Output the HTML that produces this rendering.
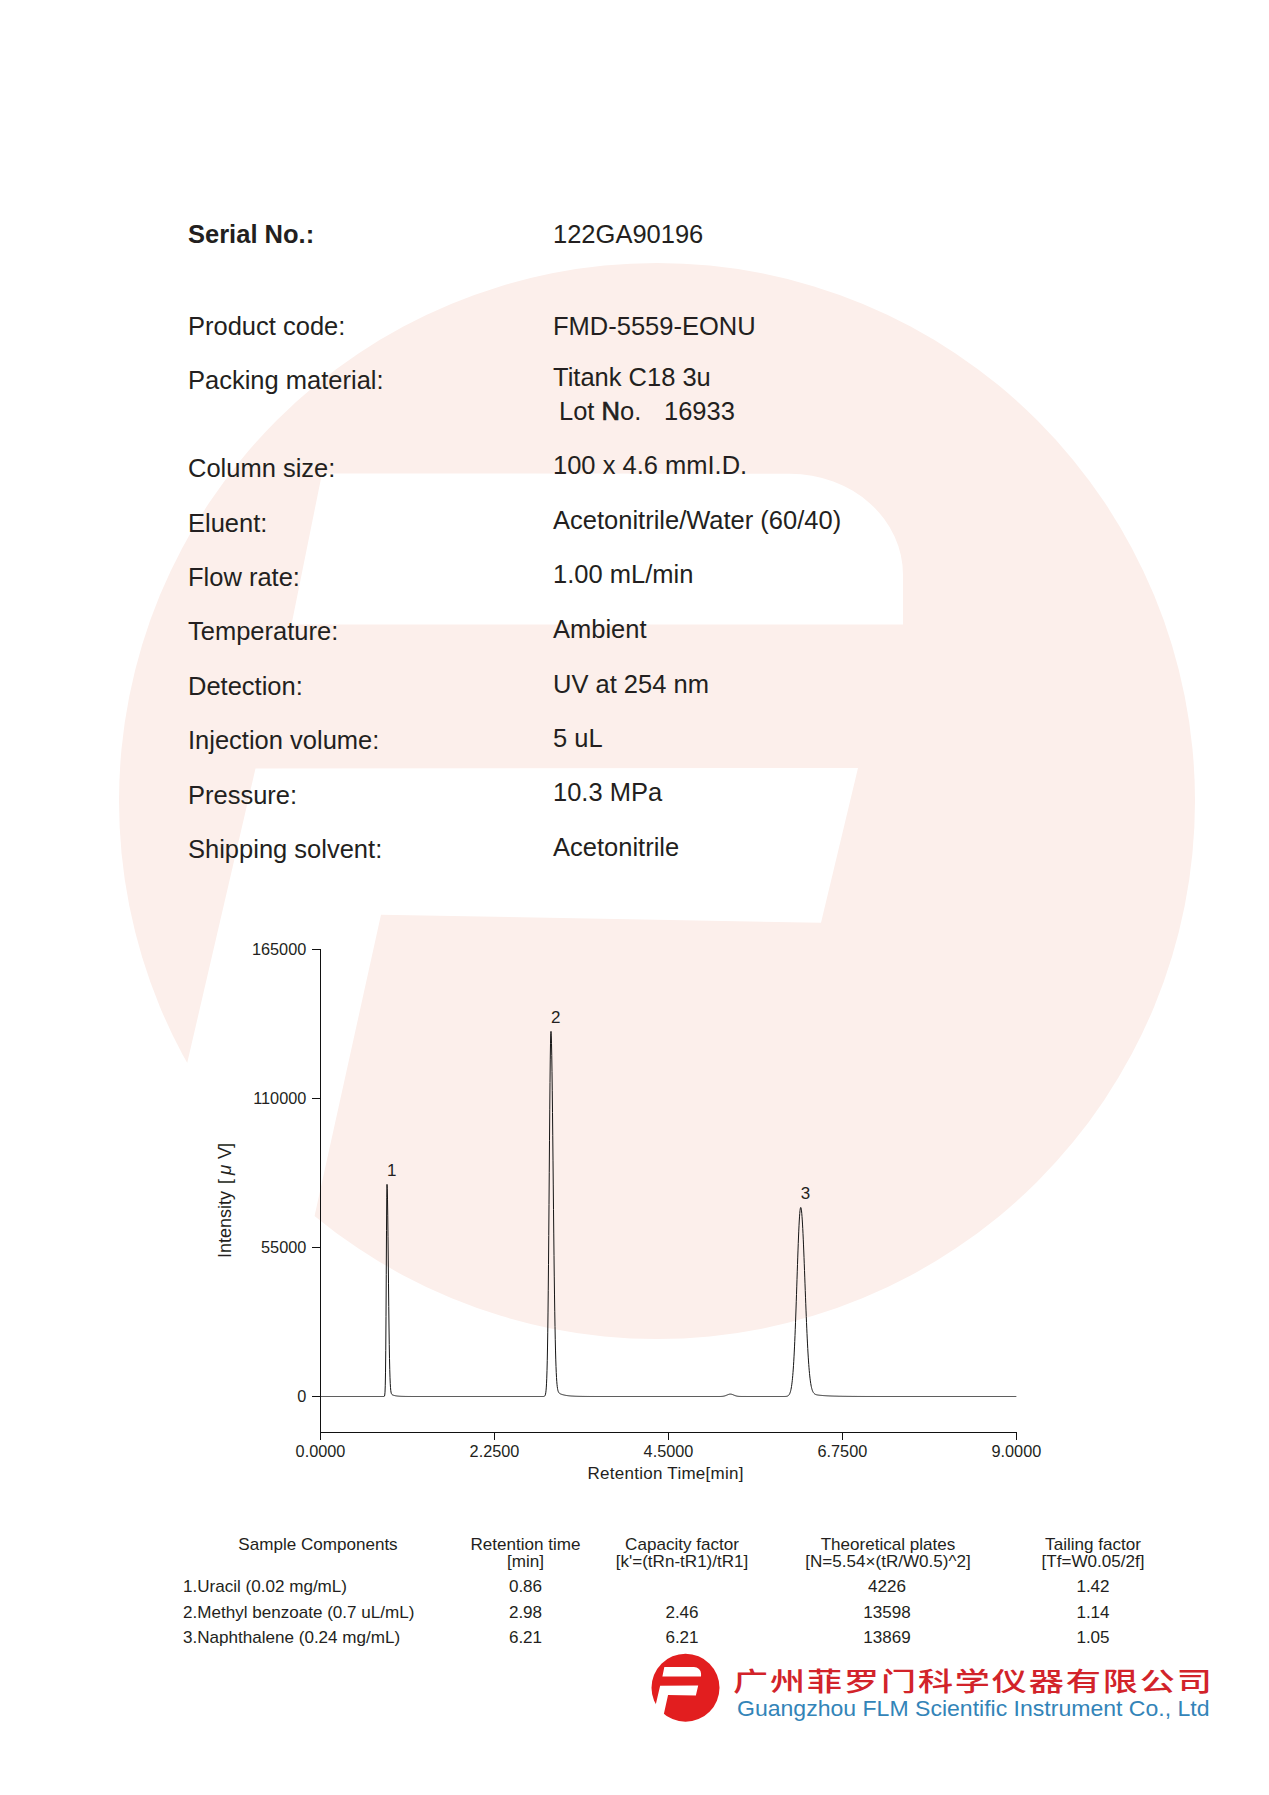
<!DOCTYPE html>
<html><head><meta charset="utf-8"><title>Certificate</title>
<style>
html,body{margin:0;padding:0;background:#fff;}
body{width:1269px;height:1795px;overflow:hidden;position:relative;}
svg{position:absolute;left:0;top:0;display:block;}
text{font-family:'Liberation Sans', Arial, sans-serif;fill:#231f20;}
</style></head><body>
<svg width="1269" height="1795" viewBox="0 0 1269 1795">
<g transform="translate(657 801) scale(1) translate(-657 -801)"><circle cx="657" cy="801" r="538" fill="#fcefeb"/><g fill="#fff"><path d="M322 473.5 L790 473.8 A113 101 0 0 1 903 575 L903 624.6 L291.5 624.4 Z"/><path d="M255.5 768.5 L858 767.9 L821 922.7 L381 914.7 L274 1400 L109 1400 Z"/></g></g>
<text x="188" y="243" font-size="25.5" font-weight="bold">Serial No.:</text>
<text x="553" y="243" font-size="25.5" >122GA90196</text>
<text x="188" y="334.8" font-size="25.5" >Product code:</text>
<text x="188" y="389.4" font-size="25.5" >Packing material:</text>
<text x="188" y="477.3" font-size="25.5" >Column size:</text>
<text x="188" y="531.6" font-size="25.5" >Eluent:</text>
<text x="188" y="586" font-size="25.5" >Flow rate:</text>
<text x="188" y="640.4" font-size="25.5" >Temperature:</text>
<text x="188" y="694.5" font-size="25.5" >Detection:</text>
<text x="188" y="749.2" font-size="25.5" >Injection volume:</text>
<text x="188" y="804" font-size="25.5" >Pressure:</text>
<text x="188" y="858.4" font-size="25.5" >Shipping solvent:</text>
<text x="553" y="334.8" font-size="25.5" >FMD-5559-EONU</text>
<text x="553" y="385.6" font-size="25.5" >Titank C18 3u</text>
<text x="553" y="529.3" font-size="25.5" >Acetonitrile/Water (60/40)</text>
<text x="553" y="583.2" font-size="25.5" >1.00 mL/min</text>
<text x="553" y="637.6" font-size="25.5" >Ambient</text>
<text x="553" y="692.5" font-size="25.5" >UV at 254 nm</text>
<text x="553" y="746.6" font-size="25.5" >5 uL</text>
<text x="553" y="801.2" font-size="25.5" >10.3 MPa</text>
<text x="553" y="855.6" font-size="25.5" >Acetonitrile</text>
<text x="559" y="419.6" font-size="25.5" >Lot <tspan style="stroke:#231f20;stroke-width:0.7">N</tspan>o.</text>
<text x="664" y="419.6" font-size="25.5" >16933</text>
<text x="553" y="473.8" font-size="25.5" >100 x 4.6 mmI.D.</text>
<path d="M320.5 949 V1440 M320 1432.5 H1016.5" stroke="#111" stroke-width="1" fill="none"/>
<path d="M312 949.5 H320 M312 1098.5 H320 M312 1247.5 H320 M312 1396.5 H320 M494.5 1432 V1440 M668.5 1432 V1440 M842.5 1432 V1440 M1016.5 1432 V1440 " stroke="#111" stroke-width="1" fill="none"/>
<text x="306.3" y="954.5" font-size="16.3" text-anchor="end">165000</text>
<text x="306.3" y="1103.5" font-size="16.3" text-anchor="end">110000</text>
<text x="306.3" y="1252.5" font-size="16.3" text-anchor="end">55000</text>
<text x="306.3" y="1401.5" font-size="16.3" text-anchor="end">0</text>
<text x="320.5" y="1457" font-size="16.3" text-anchor="middle">0.0000</text>
<text x="494.5" y="1457" font-size="16.3" text-anchor="middle">2.2500</text>
<text x="668.5" y="1457" font-size="16.3" text-anchor="middle">4.5000</text>
<text x="842.4" y="1457" font-size="16.3" text-anchor="middle">6.7500</text>
<text x="1016.4" y="1457" font-size="16.3" text-anchor="middle">9.0000</text>
<text x="587.5" y="1479.4" font-size="17" textLength="156" lengthAdjust="spacing">Retention Time[min]</text>
<text transform="translate(230.8 1258) rotate(-90)" font-size="18">Intensity <tspan x="74">[</tspan><tspan x="83" font-size="19" font-style="italic">μ</tspan><tspan x="99">V</tspan><tspan x="110">]</tspan></text>
<polyline points="320.50,1396.50 320.75,1396.50 321.00,1396.50 321.25,1396.50 321.50,1396.50 321.75,1396.50 322.00,1396.50 322.25,1396.50 322.50,1396.50 322.75,1396.50 323.00,1396.50 323.25,1396.50 323.50,1396.50 323.75,1396.50 324.00,1396.50 324.25,1396.50 324.50,1396.50 324.75,1396.50 325.00,1396.50 325.25,1396.50 325.50,1396.50 325.75,1396.50 326.00,1396.50 326.25,1396.50 326.50,1396.50 326.75,1396.50 327.00,1396.50 327.25,1396.50 327.50,1396.50 327.75,1396.50 328.00,1396.50 328.25,1396.50 328.50,1396.50 328.75,1396.50 329.00,1396.50 329.25,1396.50 329.50,1396.50 329.75,1396.50 330.00,1396.50 330.25,1396.50 330.50,1396.50 330.75,1396.50 331.00,1396.50 331.25,1396.50 331.50,1396.50 331.75,1396.50 332.00,1396.50 332.25,1396.50 332.50,1396.50 332.75,1396.50 333.00,1396.50 333.25,1396.50 333.50,1396.50 333.75,1396.50 334.00,1396.50 334.25,1396.50 334.50,1396.50 334.75,1396.50 335.00,1396.50 335.25,1396.50 335.50,1396.50 335.75,1396.50 336.00,1396.50 336.25,1396.50 336.50,1396.50 336.75,1396.50 337.00,1396.50 337.25,1396.50 337.50,1396.50 337.75,1396.50 338.00,1396.50 338.25,1396.50 338.50,1396.50 338.75,1396.50 339.00,1396.50 339.25,1396.50 339.50,1396.50 339.75,1396.50 340.00,1396.50 340.25,1396.50 340.50,1396.50 340.75,1396.50 341.00,1396.50 341.25,1396.50 341.50,1396.50 341.75,1396.50 342.00,1396.50 342.25,1396.50 342.50,1396.50 342.75,1396.50 343.00,1396.50 343.25,1396.50 343.50,1396.50 343.75,1396.50 344.00,1396.50 344.25,1396.50 344.50,1396.50 344.75,1396.50 345.00,1396.50 345.25,1396.50 345.50,1396.50 345.75,1396.50 346.00,1396.50 346.25,1396.50 346.50,1396.50 346.75,1396.50 347.00,1396.50 347.25,1396.50 347.50,1396.50 347.75,1396.50 348.00,1396.50 348.25,1396.50 348.50,1396.50 348.75,1396.50 349.00,1396.50 349.25,1396.50 349.50,1396.50 349.75,1396.50 350.00,1396.50 350.25,1396.50 350.50,1396.50 350.75,1396.50 351.00,1396.50 351.25,1396.50 351.50,1396.50 351.75,1396.50 352.00,1396.50 352.25,1396.50 352.50,1396.50 352.75,1396.50 353.00,1396.50 353.25,1396.50 353.50,1396.50 353.75,1396.50 354.00,1396.50 354.25,1396.50 354.50,1396.50 354.75,1396.50 355.00,1396.50 355.25,1396.50 355.50,1396.50 355.75,1396.50 356.00,1396.50 356.25,1396.50 356.50,1396.50 356.75,1396.50 357.00,1396.50 357.25,1396.50 357.50,1396.50 357.75,1396.50 358.00,1396.50 358.25,1396.50 358.50,1396.50 358.75,1396.50 359.00,1396.50 359.25,1396.50 359.50,1396.50 359.75,1396.50 360.00,1396.50 360.25,1396.50 360.50,1396.50 360.75,1396.50 361.00,1396.50 361.25,1396.50 361.50,1396.50 361.75,1396.50 362.00,1396.50 362.25,1396.50 362.50,1396.50 362.75,1396.50 363.00,1396.50 363.25,1396.50 363.50,1396.50 363.75,1396.50 364.00,1396.50 364.25,1396.50 364.50,1396.50 364.75,1396.50 365.00,1396.50 365.25,1396.50 365.50,1396.50 365.75,1396.50 366.00,1396.50 366.25,1396.50 366.50,1396.50 366.75,1396.50 367.00,1396.50 367.25,1396.50 367.50,1396.50 367.75,1396.50 368.00,1396.50 368.25,1396.50 368.50,1396.50 368.75,1396.50 369.00,1396.50 369.25,1396.50 369.50,1396.50 369.75,1396.50 370.00,1396.50 370.25,1396.50 370.50,1396.50 370.75,1396.50 371.00,1396.50 371.25,1396.50 371.50,1396.50 371.75,1396.50 372.00,1396.50 372.25,1396.50 372.50,1396.50 372.75,1396.50 373.00,1396.50 373.25,1396.50 373.50,1396.50 373.75,1396.50 374.00,1396.50 374.25,1396.50 374.50,1396.50 374.75,1396.50 375.00,1396.50 375.25,1396.50 375.50,1396.50 375.75,1396.50 376.00,1396.50 376.25,1396.50 376.50,1396.50 376.75,1396.50 377.00,1396.50 377.25,1396.50 377.50,1396.50 377.75,1396.50 378.00,1396.50 378.25,1396.50 378.50,1396.50 378.75,1396.50 379.00,1396.50 379.25,1396.50 379.50,1396.50 379.75,1396.50 380.00,1396.50 380.25,1396.50 380.50,1396.50 380.75,1396.50 381.00,1396.50 381.25,1396.50 381.50,1396.50 381.75,1396.50 382.00,1396.50 382.25,1396.50 382.50,1396.50 382.75,1396.50 383.00,1396.50 383.25,1396.50 383.50,1396.50 383.75,1396.49 384.00,1396.47 384.25,1396.37 384.50,1396.02 384.75,1394.97 385.00,1392.19 385.25,1385.78 385.50,1372.88 385.75,1350.37 386.00,1316.73 386.25,1274.30 386.50,1230.69 386.75,1197.23 387.00,1184.38 387.25,1188.31 387.50,1199.15 387.75,1215.83 388.00,1236.74 388.25,1260.03 388.50,1283.83 388.75,1306.56 389.00,1327.01 389.25,1344.45 389.50,1358.63 389.75,1369.64 390.00,1377.82 390.25,1383.66 390.50,1387.68 390.75,1390.35 391.00,1392.07 391.25,1393.15 391.50,1393.83 391.75,1394.26 392.00,1394.54 392.25,1394.73 392.50,1394.87 392.75,1394.99 393.00,1395.09 393.25,1395.18 393.50,1395.26 393.75,1395.34 394.00,1395.41 394.25,1395.48 394.50,1395.54 394.75,1395.60 395.00,1395.65 395.25,1395.71 395.50,1395.75 395.75,1395.80 396.00,1395.84 396.25,1395.88 396.50,1395.92 396.75,1395.96 397.00,1395.99 397.25,1396.02 397.50,1396.05 397.75,1396.08 398.00,1396.10 398.25,1396.13 398.50,1396.15 398.75,1396.17 399.00,1396.19 399.25,1396.21 399.50,1396.23 399.75,1396.25 400.00,1396.26 400.25,1396.28 400.50,1396.29 400.75,1396.30 401.00,1396.31 401.25,1396.33 401.50,1396.34 401.75,1396.35 402.00,1396.36 402.25,1396.36 402.50,1396.37 402.75,1396.38 403.00,1396.39 403.25,1396.39 403.50,1396.40 403.75,1396.41 404.00,1396.41 404.25,1396.42 404.50,1396.42 404.75,1396.43 405.00,1396.43 405.25,1396.44 405.50,1396.44 405.75,1396.44 406.00,1396.45 406.25,1396.45 406.50,1396.45 406.75,1396.46 407.00,1396.46 407.25,1396.46 407.50,1396.46 407.75,1396.47 408.00,1396.47 408.25,1396.47 408.50,1396.47 408.75,1396.47 409.00,1396.48 409.25,1396.48 409.50,1396.48 409.75,1396.48 410.00,1396.48 410.25,1396.48 410.50,1396.48 410.75,1396.48 411.00,1396.49 411.25,1396.49 411.50,1396.49 411.75,1396.49 412.00,1396.49 412.25,1396.49 412.50,1396.49 412.75,1396.49 413.00,1396.49 413.25,1396.49 413.50,1396.49 413.75,1396.49 414.00,1396.49 414.25,1396.49 414.50,1396.49 414.75,1396.49 415.00,1396.49 415.25,1396.49 415.50,1396.50 415.75,1396.50 416.00,1396.50 416.25,1396.50 416.50,1396.50 416.75,1396.50 417.00,1396.50 417.25,1396.50 417.50,1396.50 417.75,1396.50 418.00,1396.50 418.25,1396.50 418.50,1396.50 418.75,1396.50 419.00,1396.50 419.25,1396.50 419.50,1396.50 419.75,1396.50 420.00,1396.50 420.25,1396.50 420.50,1396.50 420.75,1396.50 421.00,1396.50 421.25,1396.50 421.50,1396.50 421.75,1396.50 422.00,1396.50 422.25,1396.50 422.50,1396.50 422.75,1396.50 423.00,1396.50 423.25,1396.50 423.50,1396.50 423.75,1396.50 424.00,1396.50 424.25,1396.50 424.50,1396.50 424.75,1396.50 425.00,1396.50 425.25,1396.50 425.50,1396.50 425.75,1396.50 426.00,1396.50 426.25,1396.50 426.50,1396.50 426.75,1396.50 427.00,1396.50 427.25,1396.50 427.50,1396.50 427.75,1396.50 428.00,1396.50 428.25,1396.50 428.50,1396.50 428.75,1396.50 429.00,1396.50 429.25,1396.50 429.50,1396.50 429.75,1396.50 430.00,1396.50 430.25,1396.50 430.50,1396.50 430.75,1396.50 431.00,1396.50 431.25,1396.50 431.50,1396.50 431.75,1396.50 432.00,1396.50 432.25,1396.50 432.50,1396.50 432.75,1396.50 433.00,1396.50 433.25,1396.50 433.50,1396.50 433.75,1396.50 434.00,1396.50 434.25,1396.50 434.50,1396.50 434.75,1396.50 435.00,1396.50 435.25,1396.50 435.50,1396.50 435.75,1396.50 436.00,1396.50 436.25,1396.50 436.50,1396.50 436.75,1396.50 437.00,1396.50 437.25,1396.50 437.50,1396.50 437.75,1396.50 438.00,1396.50 438.25,1396.50 438.50,1396.50 438.75,1396.50 439.00,1396.50 439.25,1396.50 439.50,1396.50 439.75,1396.50 440.00,1396.50 440.25,1396.50 440.50,1396.50 440.75,1396.50 441.00,1396.50 441.25,1396.50 441.50,1396.50 441.75,1396.50 442.00,1396.50 442.25,1396.50 442.50,1396.50 442.75,1396.50 443.00,1396.50 443.25,1396.50 443.50,1396.50 443.75,1396.50 444.00,1396.50 444.25,1396.50 444.50,1396.50 444.75,1396.50 445.00,1396.50 445.25,1396.50 445.50,1396.50 445.75,1396.50 446.00,1396.50 446.25,1396.50 446.50,1396.50 446.75,1396.50 447.00,1396.50 447.25,1396.50 447.50,1396.50 447.75,1396.50 448.00,1396.50 448.25,1396.50 448.50,1396.50 448.75,1396.50 449.00,1396.50 449.25,1396.50 449.50,1396.50 449.75,1396.50 450.00,1396.50 450.25,1396.50 450.50,1396.50 450.75,1396.50 451.00,1396.50 451.25,1396.50 451.50,1396.50 451.75,1396.50 452.00,1396.50 452.25,1396.50 452.50,1396.50 452.75,1396.50 453.00,1396.50 453.25,1396.50 453.50,1396.50 453.75,1396.50 454.00,1396.50 454.25,1396.50 454.50,1396.50 454.75,1396.50 455.00,1396.50 455.25,1396.50 455.50,1396.50 455.75,1396.50 456.00,1396.50 456.25,1396.50 456.50,1396.50 456.75,1396.50 457.00,1396.50 457.25,1396.50 457.50,1396.50 457.75,1396.50 458.00,1396.50 458.25,1396.50 458.50,1396.50 458.75,1396.50 459.00,1396.50 459.25,1396.50 459.50,1396.50 459.75,1396.50 460.00,1396.50 460.25,1396.50 460.50,1396.50 460.75,1396.50 461.00,1396.50 461.25,1396.50 461.50,1396.50 461.75,1396.50 462.00,1396.50 462.25,1396.50 462.50,1396.50 462.75,1396.50 463.00,1396.50 463.25,1396.50 463.50,1396.50 463.75,1396.50 464.00,1396.50 464.25,1396.50 464.50,1396.50 464.75,1396.50 465.00,1396.50 465.25,1396.50 465.50,1396.50 465.75,1396.50 466.00,1396.50 466.25,1396.50 466.50,1396.50 466.75,1396.50 467.00,1396.50 467.25,1396.50 467.50,1396.50 467.75,1396.50 468.00,1396.50 468.25,1396.50 468.50,1396.50 468.75,1396.50 469.00,1396.50 469.25,1396.50 469.50,1396.50 469.75,1396.50 470.00,1396.50 470.25,1396.50 470.50,1396.50 470.75,1396.50 471.00,1396.50 471.25,1396.50 471.50,1396.50 471.75,1396.50 472.00,1396.50 472.25,1396.50 472.50,1396.50 472.75,1396.50 473.00,1396.50 473.25,1396.50 473.50,1396.50 473.75,1396.50 474.00,1396.50 474.25,1396.50 474.50,1396.50 474.75,1396.50 475.00,1396.50 475.25,1396.50 475.50,1396.50 475.75,1396.50 476.00,1396.50 476.25,1396.50 476.50,1396.50 476.75,1396.50 477.00,1396.50 477.25,1396.50 477.50,1396.50 477.75,1396.50 478.00,1396.50 478.25,1396.50 478.50,1396.50 478.75,1396.50 479.00,1396.50 479.25,1396.50 479.50,1396.50 479.75,1396.50 480.00,1396.50 480.25,1396.50 480.50,1396.50 480.75,1396.50 481.00,1396.50 481.25,1396.50 481.50,1396.50 481.75,1396.50 482.00,1396.50 482.25,1396.50 482.50,1396.50 482.75,1396.50 483.00,1396.50 483.25,1396.50 483.50,1396.50 483.75,1396.50 484.00,1396.50 484.25,1396.50 484.50,1396.50 484.75,1396.50 485.00,1396.50 485.25,1396.50 485.50,1396.50 485.75,1396.50 486.00,1396.50 486.25,1396.50 486.50,1396.50 486.75,1396.50 487.00,1396.50 487.25,1396.50 487.50,1396.50 487.75,1396.50 488.00,1396.50 488.25,1396.50 488.50,1396.50 488.75,1396.50 489.00,1396.50 489.25,1396.50 489.50,1396.50 489.75,1396.50 490.00,1396.50 490.25,1396.50 490.50,1396.50 490.75,1396.50 491.00,1396.50 491.25,1396.50 491.50,1396.50 491.75,1396.50 492.00,1396.50 492.25,1396.50 492.50,1396.50 492.75,1396.50 493.00,1396.50 493.25,1396.50 493.50,1396.50 493.75,1396.50 494.00,1396.50 494.25,1396.50 494.50,1396.50 494.75,1396.50 495.00,1396.50 495.25,1396.50 495.50,1396.50 495.75,1396.50 496.00,1396.50 496.25,1396.50 496.50,1396.50 496.75,1396.50 497.00,1396.50 497.25,1396.50 497.50,1396.50 497.75,1396.50 498.00,1396.50 498.25,1396.50 498.50,1396.50 498.75,1396.50 499.00,1396.50 499.25,1396.50 499.50,1396.50 499.75,1396.50 500.00,1396.50 500.25,1396.50 500.50,1396.50 500.75,1396.50 501.00,1396.50 501.25,1396.50 501.50,1396.50 501.75,1396.50 502.00,1396.50 502.25,1396.50 502.50,1396.50 502.75,1396.50 503.00,1396.50 503.25,1396.50 503.50,1396.50 503.75,1396.50 504.00,1396.50 504.25,1396.50 504.50,1396.50 504.75,1396.50 505.00,1396.50 505.25,1396.50 505.50,1396.50 505.75,1396.50 506.00,1396.50 506.25,1396.50 506.50,1396.50 506.75,1396.50 507.00,1396.50 507.25,1396.50 507.50,1396.50 507.75,1396.50 508.00,1396.50 508.25,1396.50 508.50,1396.50 508.75,1396.50 509.00,1396.50 509.25,1396.50 509.50,1396.50 509.75,1396.50 510.00,1396.50 510.25,1396.50 510.50,1396.50 510.75,1396.50 511.00,1396.50 511.25,1396.50 511.50,1396.50 511.75,1396.50 512.00,1396.50 512.25,1396.50 512.50,1396.50 512.75,1396.50 513.00,1396.50 513.25,1396.50 513.50,1396.50 513.75,1396.50 514.00,1396.50 514.25,1396.50 514.50,1396.50 514.75,1396.50 515.00,1396.50 515.25,1396.50 515.50,1396.50 515.75,1396.50 516.00,1396.50 516.25,1396.50 516.50,1396.50 516.75,1396.50 517.00,1396.50 517.25,1396.50 517.50,1396.50 517.75,1396.50 518.00,1396.50 518.25,1396.50 518.50,1396.50 518.75,1396.50 519.00,1396.50 519.25,1396.50 519.50,1396.50 519.75,1396.50 520.00,1396.50 520.25,1396.50 520.50,1396.50 520.75,1396.50 521.00,1396.50 521.25,1396.50 521.50,1396.50 521.75,1396.50 522.00,1396.50 522.25,1396.50 522.50,1396.50 522.75,1396.50 523.00,1396.50 523.25,1396.50 523.50,1396.50 523.75,1396.50 524.00,1396.50 524.25,1396.50 524.50,1396.50 524.75,1396.50 525.00,1396.50 525.25,1396.50 525.50,1396.50 525.75,1396.50 526.00,1396.50 526.25,1396.50 526.50,1396.50 526.75,1396.50 527.00,1396.50 527.25,1396.50 527.50,1396.50 527.75,1396.50 528.00,1396.50 528.25,1396.50 528.50,1396.50 528.75,1396.50 529.00,1396.50 529.25,1396.50 529.50,1396.50 529.75,1396.50 530.00,1396.50 530.25,1396.50 530.50,1396.50 530.75,1396.50 531.00,1396.50 531.25,1396.50 531.50,1396.50 531.75,1396.50 532.00,1396.50 532.25,1396.50 532.50,1396.50 532.75,1396.50 533.00,1396.50 533.25,1396.50 533.50,1396.50 533.75,1396.50 534.00,1396.50 534.25,1396.50 534.50,1396.50 534.75,1396.50 535.00,1396.50 535.25,1396.50 535.50,1396.50 535.75,1396.50 536.00,1396.50 536.25,1396.50 536.50,1396.50 536.75,1396.50 537.00,1396.50 537.25,1396.50 537.50,1396.50 537.75,1396.50 538.00,1396.50 538.25,1396.50 538.50,1396.50 538.75,1396.50 539.00,1396.50 539.25,1396.50 539.50,1396.50 539.75,1396.50 540.00,1396.50 540.25,1396.50 540.50,1396.50 540.75,1396.50 541.00,1396.50 541.25,1396.50 541.50,1396.50 541.75,1396.50 542.00,1396.50 542.25,1396.50 542.50,1396.50 542.75,1396.50 543.00,1396.49 543.25,1396.48 543.50,1396.47 543.75,1396.45 544.00,1396.40 544.25,1396.32 544.50,1396.19 544.75,1395.97 545.00,1395.61 545.25,1395.04 545.50,1394.15 545.75,1392.80 546.00,1390.81 546.25,1387.92 546.50,1383.84 546.75,1378.21 547.00,1370.64 547.25,1360.70 547.50,1347.99 547.75,1332.15 548.00,1312.94 548.25,1290.28 548.50,1264.32 548.75,1235.48 549.00,1204.47 549.25,1172.32 549.50,1140.29 549.75,1109.85 550.00,1082.55 550.25,1059.90 550.50,1043.21 550.75,1033.50 551.00,1031.39 551.25,1035.12 551.50,1043.30 551.75,1055.61 552.00,1071.63 552.25,1090.77 552.50,1112.38 552.75,1135.75 553.00,1160.17 553.25,1184.94 553.50,1209.42 553.75,1233.07 554.00,1255.42 554.25,1276.12 554.50,1294.95 554.75,1311.76 555.00,1326.51 555.25,1339.25 555.50,1350.06 555.75,1359.11 556.00,1366.57 556.25,1372.62 556.50,1377.47 556.75,1381.31 557.00,1384.31 557.25,1386.62 557.50,1388.39 557.75,1389.73 558.00,1390.75 558.25,1391.51 558.50,1392.09 558.75,1392.52 559.00,1392.86 559.25,1393.13 559.50,1393.34 559.75,1393.51 560.00,1393.66 560.25,1393.79 560.50,1393.91 560.75,1394.01 561.00,1394.11 561.25,1394.21 561.50,1394.29 561.75,1394.38 562.00,1394.46 562.25,1394.53 562.50,1394.61 562.75,1394.68 563.00,1394.75 563.25,1394.81 563.50,1394.87 563.75,1394.93 564.00,1394.99 564.25,1395.05 564.50,1395.10 564.75,1395.16 565.00,1395.21 565.25,1395.25 565.50,1395.30 565.75,1395.35 566.00,1395.39 566.25,1395.43 566.50,1395.47 566.75,1395.51 567.00,1395.54 567.25,1395.58 567.50,1395.61 567.75,1395.65 568.00,1395.68 568.25,1395.71 568.50,1395.74 568.75,1395.77 569.00,1395.80 569.25,1395.82 569.50,1395.85 569.75,1395.87 570.00,1395.89 570.25,1395.92 570.50,1395.94 570.75,1395.96 571.00,1395.98 571.25,1396.00 571.50,1396.02 571.75,1396.04 572.00,1396.05 572.25,1396.07 572.50,1396.09 572.75,1396.10 573.00,1396.12 573.25,1396.13 573.50,1396.14 573.75,1396.16 574.00,1396.17 574.25,1396.18 574.50,1396.19 574.75,1396.21 575.00,1396.22 575.25,1396.23 575.50,1396.24 575.75,1396.25 576.00,1396.26 576.25,1396.27 576.50,1396.27 576.75,1396.28 577.00,1396.29 577.25,1396.30 577.50,1396.31 577.75,1396.31 578.00,1396.32 578.25,1396.33 578.50,1396.33 578.75,1396.34 579.00,1396.35 579.25,1396.35 579.50,1396.36 579.75,1396.36 580.00,1396.37 580.25,1396.37 580.50,1396.38 580.75,1396.38 581.00,1396.39 581.25,1396.39 581.50,1396.39 581.75,1396.40 582.00,1396.40 582.25,1396.41 582.50,1396.41 582.75,1396.41 583.00,1396.42 583.25,1396.42 583.50,1396.42 583.75,1396.43 584.00,1396.43 584.25,1396.43 584.50,1396.43 584.75,1396.44 585.00,1396.44 585.25,1396.44 585.50,1396.44 585.75,1396.44 586.00,1396.45 586.25,1396.45 586.50,1396.45 586.75,1396.45 587.00,1396.45 587.25,1396.46 587.50,1396.46 587.75,1396.46 588.00,1396.46 588.25,1396.46 588.50,1396.46 588.75,1396.46 589.00,1396.47 589.25,1396.47 589.50,1396.47 589.75,1396.47 590.00,1396.47 590.25,1396.47 590.50,1396.47 590.75,1396.47 591.00,1396.48 591.25,1396.48 591.50,1396.48 591.75,1396.48 592.00,1396.48 592.25,1396.48 592.50,1396.48 592.75,1396.48 593.00,1396.48 593.25,1396.48 593.50,1396.48 593.75,1396.48 594.00,1396.48 594.25,1396.48 594.50,1396.49 594.75,1396.49 595.00,1396.49 595.25,1396.49 595.50,1396.49 595.75,1396.49 596.00,1396.49 596.25,1396.49 596.50,1396.49 596.75,1396.49 597.00,1396.49 597.25,1396.49 597.50,1396.49 597.75,1396.49 598.00,1396.49 598.25,1396.49 598.50,1396.49 598.75,1396.49 599.00,1396.49 599.25,1396.49 599.50,1396.49 599.75,1396.49 600.00,1396.49 600.25,1396.49 600.50,1396.49 600.75,1396.49 601.00,1396.49 601.25,1396.49 601.50,1396.49 601.75,1396.50 602.00,1396.50 602.25,1396.50 602.50,1396.50 602.75,1396.50 603.00,1396.50 603.25,1396.50 603.50,1396.50 603.75,1396.50 604.00,1396.50 604.25,1396.50 604.50,1396.50 604.75,1396.50 605.00,1396.50 605.25,1396.50 605.50,1396.50 605.75,1396.50 606.00,1396.50 606.25,1396.50 606.50,1396.50 606.75,1396.50 607.00,1396.50 607.25,1396.50 607.50,1396.50 607.75,1396.50 608.00,1396.50 608.25,1396.50 608.50,1396.50 608.75,1396.50 609.00,1396.50 609.25,1396.50 609.50,1396.50 609.75,1396.50 610.00,1396.50 610.25,1396.50 610.50,1396.50 610.75,1396.50 611.00,1396.50 611.25,1396.50 611.50,1396.50 611.75,1396.50 612.00,1396.50 612.25,1396.50 612.50,1396.50 612.75,1396.50 613.00,1396.50 613.25,1396.50 613.50,1396.50 613.75,1396.50 614.00,1396.50 614.25,1396.50 614.50,1396.50 614.75,1396.50 615.00,1396.50 615.25,1396.50 615.50,1396.50 615.75,1396.50 616.00,1396.50 616.25,1396.50 616.50,1396.50 616.75,1396.50 617.00,1396.50 617.25,1396.50 617.50,1396.50 617.75,1396.50 618.00,1396.50 618.25,1396.50 618.50,1396.50 618.75,1396.50 619.00,1396.50 619.25,1396.50 619.50,1396.50 619.75,1396.50 620.00,1396.50 620.25,1396.50 620.50,1396.50 620.75,1396.50 621.00,1396.50 621.25,1396.50 621.50,1396.50 621.75,1396.50 622.00,1396.50 622.25,1396.50 622.50,1396.50 622.75,1396.50 623.00,1396.50 623.25,1396.50 623.50,1396.50 623.75,1396.50 624.00,1396.50 624.25,1396.50 624.50,1396.50 624.75,1396.50 625.00,1396.50 625.25,1396.50 625.50,1396.50 625.75,1396.50 626.00,1396.50 626.25,1396.50 626.50,1396.50 626.75,1396.50 627.00,1396.50 627.25,1396.50 627.50,1396.50 627.75,1396.50 628.00,1396.50 628.25,1396.50 628.50,1396.50 628.75,1396.50 629.00,1396.50 629.25,1396.50 629.50,1396.50 629.75,1396.50 630.00,1396.50 630.25,1396.50 630.50,1396.50 630.75,1396.50 631.00,1396.50 631.25,1396.50 631.50,1396.50 631.75,1396.50 632.00,1396.50 632.25,1396.50 632.50,1396.50 632.75,1396.50 633.00,1396.50 633.25,1396.50 633.50,1396.50 633.75,1396.50 634.00,1396.50 634.25,1396.50 634.50,1396.50 634.75,1396.50 635.00,1396.50 635.25,1396.50 635.50,1396.50 635.75,1396.50 636.00,1396.50 636.25,1396.50 636.50,1396.50 636.75,1396.50 637.00,1396.50 637.25,1396.50 637.50,1396.50 637.75,1396.50 638.00,1396.50 638.25,1396.50 638.50,1396.50 638.75,1396.50 639.00,1396.50 639.25,1396.50 639.50,1396.50 639.75,1396.50 640.00,1396.50 640.25,1396.50 640.50,1396.50 640.75,1396.50 641.00,1396.50 641.25,1396.50 641.50,1396.50 641.75,1396.50 642.00,1396.50 642.25,1396.50 642.50,1396.50 642.75,1396.50 643.00,1396.50 643.25,1396.50 643.50,1396.50 643.75,1396.50 644.00,1396.50 644.25,1396.50 644.50,1396.50 644.75,1396.50 645.00,1396.50 645.25,1396.50 645.50,1396.50 645.75,1396.50 646.00,1396.50 646.25,1396.50 646.50,1396.50 646.75,1396.50 647.00,1396.50 647.25,1396.50 647.50,1396.50 647.75,1396.50 648.00,1396.50 648.25,1396.50 648.50,1396.50 648.75,1396.50 649.00,1396.50 649.25,1396.50 649.50,1396.50 649.75,1396.50 650.00,1396.50 650.25,1396.50 650.50,1396.50 650.75,1396.50 651.00,1396.50 651.25,1396.50 651.50,1396.50 651.75,1396.50 652.00,1396.50 652.25,1396.50 652.50,1396.50 652.75,1396.50 653.00,1396.50 653.25,1396.50 653.50,1396.50 653.75,1396.50 654.00,1396.50 654.25,1396.50 654.50,1396.50 654.75,1396.50 655.00,1396.50 655.25,1396.50 655.50,1396.50 655.75,1396.50 656.00,1396.50 656.25,1396.50 656.50,1396.50 656.75,1396.50 657.00,1396.50 657.25,1396.50 657.50,1396.50 657.75,1396.50 658.00,1396.50 658.25,1396.50 658.50,1396.50 658.75,1396.50 659.00,1396.50 659.25,1396.50 659.50,1396.50 659.75,1396.50 660.00,1396.50 660.25,1396.50 660.50,1396.50 660.75,1396.50 661.00,1396.50 661.25,1396.50 661.50,1396.50 661.75,1396.50 662.00,1396.50 662.25,1396.50 662.50,1396.50 662.75,1396.50 663.00,1396.50 663.25,1396.50 663.50,1396.50 663.75,1396.50 664.00,1396.50 664.25,1396.50 664.50,1396.50 664.75,1396.50 665.00,1396.50 665.25,1396.50 665.50,1396.50 665.75,1396.50 666.00,1396.50 666.25,1396.50 666.50,1396.50 666.75,1396.50 667.00,1396.50 667.25,1396.50 667.50,1396.50 667.75,1396.50 668.00,1396.50 668.25,1396.50 668.50,1396.50 668.75,1396.50 669.00,1396.50 669.25,1396.50 669.50,1396.50 669.75,1396.50 670.00,1396.50 670.25,1396.50 670.50,1396.50 670.75,1396.50 671.00,1396.50 671.25,1396.50 671.50,1396.50 671.75,1396.50 672.00,1396.50 672.25,1396.50 672.50,1396.50 672.75,1396.50 673.00,1396.50 673.25,1396.50 673.50,1396.50 673.75,1396.50 674.00,1396.50 674.25,1396.50 674.50,1396.50 674.75,1396.50 675.00,1396.50 675.25,1396.50 675.50,1396.50 675.75,1396.50 676.00,1396.50 676.25,1396.50 676.50,1396.50 676.75,1396.50 677.00,1396.50 677.25,1396.50 677.50,1396.50 677.75,1396.50 678.00,1396.50 678.25,1396.50 678.50,1396.50 678.75,1396.50 679.00,1396.50 679.25,1396.50 679.50,1396.50 679.75,1396.50 680.00,1396.50 680.25,1396.50 680.50,1396.50 680.75,1396.50 681.00,1396.50 681.25,1396.50 681.50,1396.50 681.75,1396.50 682.00,1396.50 682.25,1396.50 682.50,1396.50 682.75,1396.50 683.00,1396.50 683.25,1396.50 683.50,1396.50 683.75,1396.50 684.00,1396.50 684.25,1396.50 684.50,1396.50 684.75,1396.50 685.00,1396.50 685.25,1396.50 685.50,1396.50 685.75,1396.50 686.00,1396.50 686.25,1396.50 686.50,1396.50 686.75,1396.50 687.00,1396.50 687.25,1396.50 687.50,1396.50 687.75,1396.50 688.00,1396.50 688.25,1396.50 688.50,1396.50 688.75,1396.50 689.00,1396.50 689.25,1396.50 689.50,1396.50 689.75,1396.50 690.00,1396.50 690.25,1396.50 690.50,1396.50 690.75,1396.50 691.00,1396.50 691.25,1396.50 691.50,1396.50 691.75,1396.50 692.00,1396.50 692.25,1396.50 692.50,1396.50 692.75,1396.50 693.00,1396.50 693.25,1396.50 693.50,1396.50 693.75,1396.50 694.00,1396.50 694.25,1396.50 694.50,1396.50 694.75,1396.50 695.00,1396.50 695.25,1396.50 695.50,1396.50 695.75,1396.50 696.00,1396.50 696.25,1396.50 696.50,1396.50 696.75,1396.50 697.00,1396.50 697.25,1396.50 697.50,1396.50 697.75,1396.50 698.00,1396.50 698.25,1396.50 698.50,1396.50 698.75,1396.50 699.00,1396.50 699.25,1396.50 699.50,1396.50 699.75,1396.50 700.00,1396.50 700.25,1396.50 700.50,1396.50 700.75,1396.50 701.00,1396.50 701.25,1396.50 701.50,1396.50 701.75,1396.50 702.00,1396.50 702.25,1396.50 702.50,1396.50 702.75,1396.50 703.00,1396.50 703.25,1396.50 703.50,1396.50 703.75,1396.50 704.00,1396.50 704.25,1396.50 704.50,1396.50 704.75,1396.50 705.00,1396.50 705.25,1396.50 705.50,1396.50 705.75,1396.50 706.00,1396.50 706.25,1396.50 706.50,1396.50 706.75,1396.50 707.00,1396.50 707.25,1396.50 707.50,1396.50 707.75,1396.50 708.00,1396.50 708.25,1396.50 708.50,1396.50 708.75,1396.50 709.00,1396.50 709.25,1396.50 709.50,1396.50 709.75,1396.50 710.00,1396.50 710.25,1396.50 710.50,1396.50 710.75,1396.50 711.00,1396.50 711.25,1396.50 711.50,1396.50 711.75,1396.50 712.00,1396.50 712.25,1396.50 712.50,1396.50 712.75,1396.50 713.00,1396.50 713.25,1396.50 713.50,1396.50 713.75,1396.50 714.00,1396.50 714.25,1396.50 714.50,1396.50 714.75,1396.50 715.00,1396.50 715.25,1396.50 715.50,1396.50 715.75,1396.50 716.00,1396.50 716.25,1396.50 716.50,1396.50 716.75,1396.50 717.00,1396.50 717.25,1396.50 717.50,1396.50 717.75,1396.50 718.00,1396.50 718.25,1396.50 718.50,1396.49 718.75,1396.49 719.00,1396.49 719.25,1396.49 719.50,1396.49 719.75,1396.48 720.00,1396.48 720.25,1396.47 720.50,1396.46 720.75,1396.46 721.00,1396.45 721.25,1396.43 721.50,1396.42 721.75,1396.40 722.00,1396.38 722.25,1396.36 722.50,1396.33 722.75,1396.30 723.00,1396.27 723.25,1396.23 723.50,1396.19 723.75,1396.14 724.00,1396.08 724.25,1396.02 724.50,1395.96 724.75,1395.89 725.00,1395.81 725.25,1395.73 725.50,1395.64 725.75,1395.55 726.00,1395.45 726.25,1395.35 726.50,1395.25 726.75,1395.14 727.00,1395.03 727.25,1394.93 727.50,1394.82 727.75,1394.72 728.00,1394.62 728.25,1394.53 728.50,1394.44 728.75,1394.37 729.00,1394.30 729.25,1394.24 729.50,1394.19 729.75,1394.15 730.00,1394.13 730.25,1394.12 730.50,1394.12 730.75,1394.13 731.00,1394.16 731.25,1394.20 731.50,1394.25 731.75,1394.31 732.00,1394.38 732.25,1394.46 732.50,1394.55 732.75,1394.64 733.00,1394.74 733.25,1394.84 733.50,1394.94 733.75,1395.05 734.00,1395.15 734.25,1395.26 734.50,1395.36 734.75,1395.45 735.00,1395.55 735.25,1395.64 735.50,1395.72 735.75,1395.80 736.00,1395.88 736.25,1395.95 736.50,1396.01 736.75,1396.07 737.00,1396.12 737.25,1396.17 737.50,1396.21 737.75,1396.25 738.00,1396.28 738.25,1396.31 738.50,1396.34 738.75,1396.36 739.00,1396.38 739.25,1396.40 739.50,1396.41 739.75,1396.42 740.00,1396.43 740.25,1396.44 740.50,1396.45 740.75,1396.45 741.00,1396.46 741.25,1396.46 741.50,1396.47 741.75,1396.47 742.00,1396.47 742.25,1396.47 742.50,1396.47 742.75,1396.48 743.00,1396.48 743.25,1396.48 743.50,1396.48 743.75,1396.48 744.00,1396.48 744.25,1396.48 744.50,1396.48 744.75,1396.48 745.00,1396.48 745.25,1396.48 745.50,1396.48 745.75,1396.48 746.00,1396.48 746.25,1396.48 746.50,1396.49 746.75,1396.49 747.00,1396.49 747.25,1396.49 747.50,1396.49 747.75,1396.49 748.00,1396.49 748.25,1396.49 748.50,1396.49 748.75,1396.49 749.00,1396.49 749.25,1396.49 749.50,1396.49 749.75,1396.49 750.00,1396.49 750.25,1396.49 750.50,1396.49 750.75,1396.49 751.00,1396.49 751.25,1396.49 751.50,1396.49 751.75,1396.49 752.00,1396.49 752.25,1396.49 752.50,1396.49 752.75,1396.49 753.00,1396.49 753.25,1396.49 753.50,1396.49 753.75,1396.49 754.00,1396.49 754.25,1396.49 754.50,1396.49 754.75,1396.49 755.00,1396.49 755.25,1396.49 755.50,1396.49 755.75,1396.49 756.00,1396.49 756.25,1396.49 756.50,1396.49 756.75,1396.49 757.00,1396.49 757.25,1396.49 757.50,1396.50 757.75,1396.50 758.00,1396.50 758.25,1396.50 758.50,1396.50 758.75,1396.50 759.00,1396.50 759.25,1396.50 759.50,1396.50 759.75,1396.50 760.00,1396.50 760.25,1396.50 760.50,1396.50 760.75,1396.50 761.00,1396.50 761.25,1396.50 761.50,1396.50 761.75,1396.50 762.00,1396.50 762.25,1396.50 762.50,1396.50 762.75,1396.50 763.00,1396.50 763.25,1396.50 763.50,1396.50 763.75,1396.50 764.00,1396.50 764.25,1396.50 764.50,1396.50 764.75,1396.50 765.00,1396.50 765.25,1396.50 765.50,1396.50 765.75,1396.50 766.00,1396.50 766.25,1396.50 766.50,1396.50 766.75,1396.50 767.00,1396.50 767.25,1396.50 767.50,1396.50 767.75,1396.50 768.00,1396.50 768.25,1396.50 768.50,1396.50 768.75,1396.50 769.00,1396.50 769.25,1396.50 769.50,1396.50 769.75,1396.50 770.00,1396.50 770.25,1396.50 770.50,1396.50 770.75,1396.50 771.00,1396.50 771.25,1396.50 771.50,1396.50 771.75,1396.50 772.00,1396.50 772.25,1396.50 772.50,1396.50 772.75,1396.50 773.00,1396.50 773.25,1396.50 773.50,1396.50 773.75,1396.50 774.00,1396.50 774.25,1396.50 774.50,1396.50 774.75,1396.50 775.00,1396.50 775.25,1396.50 775.50,1396.50 775.75,1396.50 776.00,1396.50 776.25,1396.50 776.50,1396.50 776.75,1396.50 777.00,1396.50 777.25,1396.50 777.50,1396.50 777.75,1396.50 778.00,1396.50 778.25,1396.50 778.50,1396.50 778.75,1396.50 779.00,1396.50 779.25,1396.50 779.50,1396.50 779.75,1396.50 780.00,1396.50 780.25,1396.50 780.50,1396.50 780.75,1396.50 781.00,1396.50 781.25,1396.50 781.50,1396.50 781.75,1396.50 782.00,1396.50 782.25,1396.50 782.50,1396.50 782.75,1396.50 783.00,1396.50 783.25,1396.49 783.50,1396.49 783.75,1396.49 784.00,1396.49 784.25,1396.48 784.50,1396.48 784.75,1396.47 785.00,1396.46 785.25,1396.45 785.50,1396.44 785.75,1396.42 786.00,1396.39 786.25,1396.36 786.50,1396.33 786.75,1396.28 787.00,1396.22 787.25,1396.14 787.50,1396.05 787.75,1395.94 788.00,1395.80 788.25,1395.63 788.50,1395.42 788.75,1395.17 789.00,1394.87 789.25,1394.50 789.50,1394.07 789.75,1393.56 790.00,1392.95 790.25,1392.23 790.50,1391.40 790.75,1390.43 791.00,1389.30 791.25,1388.00 791.50,1386.51 791.75,1384.80 792.00,1382.87 792.25,1380.69 792.50,1378.23 792.75,1375.49 793.00,1372.43 793.25,1369.05 793.50,1365.34 793.75,1361.27 794.00,1356.84 794.25,1352.05 794.50,1346.89 794.75,1341.38 795.00,1335.51 795.25,1329.32 795.50,1322.81 795.75,1316.02 796.00,1308.99 796.25,1301.75 796.50,1294.36 796.75,1286.86 797.00,1279.32 797.25,1271.80 797.50,1264.38 797.75,1257.11 798.00,1250.09 798.25,1243.37 798.50,1237.03 798.75,1231.15 799.00,1225.79 799.25,1221.01 799.50,1216.88 799.75,1213.45 800.00,1210.76 800.25,1208.84 800.50,1207.72 800.75,1207.42 801.00,1207.94 801.25,1209.11 801.50,1210.92 801.75,1213.34 802.00,1216.36 802.25,1219.94 802.50,1224.05 802.75,1228.65 803.00,1233.69 803.25,1239.13 803.50,1244.91 803.75,1250.98 804.00,1257.29 804.25,1263.79 804.50,1270.41 804.75,1277.11 805.00,1283.84 805.25,1290.55 805.50,1297.20 805.75,1303.74 806.00,1310.13 806.25,1316.35 806.50,1322.37 806.75,1328.15 807.00,1333.68 807.25,1338.94 807.50,1343.93 807.75,1348.62 808.00,1353.03 808.25,1357.14 808.50,1360.96 808.75,1364.49 809.00,1367.74 809.25,1370.72 809.50,1373.45 809.75,1375.92 810.00,1378.16 810.25,1380.18 810.50,1382.00 810.75,1383.62 811.00,1385.06 811.25,1386.35 811.50,1387.49 811.75,1388.49 812.00,1389.37 812.25,1390.14 812.50,1390.81 812.75,1391.40 813.00,1391.91 813.25,1392.35 813.50,1392.73 813.75,1393.06 814.00,1393.35 814.25,1393.59 814.50,1393.80 814.75,1393.99 815.00,1394.14 815.25,1394.28 815.50,1394.40 815.75,1394.50 816.00,1394.59 816.25,1394.67 816.50,1394.74 816.75,1394.80 817.00,1394.86 817.25,1394.91 817.50,1394.95 817.75,1394.99 818.00,1395.03 818.25,1395.07 818.50,1395.10 818.75,1395.14 819.00,1395.17 819.25,1395.19 819.50,1395.22 819.75,1395.25 820.00,1395.28 820.25,1395.30 820.50,1395.33 820.75,1395.35 821.00,1395.37 821.25,1395.39 821.50,1395.42 821.75,1395.44 822.00,1395.46 822.25,1395.48 822.50,1395.50 822.75,1395.52 823.00,1395.54 823.25,1395.56 823.50,1395.58 823.75,1395.60 824.00,1395.61 824.25,1395.63 824.50,1395.65 824.75,1395.66 825.00,1395.68 825.25,1395.70 825.50,1395.71 825.75,1395.73 826.00,1395.74 826.25,1395.76 826.50,1395.77 826.75,1395.79 827.00,1395.80 827.25,1395.82 827.50,1395.83 827.75,1395.84 828.00,1395.86 828.25,1395.87 828.50,1395.88 828.75,1395.89 829.00,1395.90 829.25,1395.92 829.50,1395.93 829.75,1395.94 830.00,1395.95 830.25,1395.96 830.50,1395.97 830.75,1395.98 831.00,1395.99 831.25,1396.00 831.50,1396.01 831.75,1396.02 832.00,1396.03 832.25,1396.04 832.50,1396.05 832.75,1396.06 833.00,1396.07 833.25,1396.08 833.50,1396.08 833.75,1396.09 834.00,1396.10 834.25,1396.11 834.50,1396.12 834.75,1396.12 835.00,1396.13 835.25,1396.14 835.50,1396.15 835.75,1396.15 836.00,1396.16 836.25,1396.17 836.50,1396.17 836.75,1396.18 837.00,1396.19 837.25,1396.19 837.50,1396.20 837.75,1396.20 838.00,1396.21 838.25,1396.22 838.50,1396.22 838.75,1396.23 839.00,1396.23 839.25,1396.24 839.50,1396.24 839.75,1396.25 840.00,1396.25 840.25,1396.26 840.50,1396.26 840.75,1396.27 841.00,1396.27 841.25,1396.28 841.50,1396.28 841.75,1396.28 842.00,1396.29 842.25,1396.29 842.50,1396.30 842.75,1396.30 843.00,1396.30 843.25,1396.31 843.50,1396.31 843.75,1396.32 844.00,1396.32 844.25,1396.32 844.50,1396.33 844.75,1396.33 845.00,1396.33 845.25,1396.34 845.50,1396.34 845.75,1396.34 846.00,1396.35 846.25,1396.35 846.50,1396.35 846.75,1396.36 847.00,1396.36 847.25,1396.36 847.50,1396.36 847.75,1396.37 848.00,1396.37 848.25,1396.37 848.50,1396.37 848.75,1396.38 849.00,1396.38 849.25,1396.38 849.50,1396.38 849.75,1396.39 850.00,1396.39 850.25,1396.39 850.50,1396.39 850.75,1396.39 851.00,1396.40 851.25,1396.40 851.50,1396.40 851.75,1396.40 852.00,1396.40 852.25,1396.41 852.50,1396.41 852.75,1396.41 853.00,1396.41 853.25,1396.41 853.50,1396.42 853.75,1396.42 854.00,1396.42 854.25,1396.42 854.50,1396.42 854.75,1396.42 855.00,1396.43 855.25,1396.43 855.50,1396.43 855.75,1396.43 856.00,1396.43 856.25,1396.43 856.50,1396.43 856.75,1396.43 857.00,1396.44 857.25,1396.44 857.50,1396.44 857.75,1396.44 858.00,1396.44 858.25,1396.44 858.50,1396.44 858.75,1396.44 859.00,1396.45 859.25,1396.45 859.50,1396.45 859.75,1396.45 860.00,1396.45 860.25,1396.45 860.50,1396.45 860.75,1396.45 861.00,1396.45 861.25,1396.45 861.50,1396.46 861.75,1396.46 862.00,1396.46 862.25,1396.46 862.50,1396.46 862.75,1396.46 863.00,1396.46 863.25,1396.46 863.50,1396.46 863.75,1396.46 864.00,1396.46 864.25,1396.46 864.50,1396.46 864.75,1396.47 865.00,1396.47 865.25,1396.47 865.50,1396.47 865.75,1396.47 866.00,1396.47 866.25,1396.47 866.50,1396.47 866.75,1396.47 867.00,1396.47 867.25,1396.47 867.50,1396.47 867.75,1396.47 868.00,1396.47 868.25,1396.47 868.50,1396.47 868.75,1396.47 869.00,1396.48 869.25,1396.48 869.50,1396.48 869.75,1396.48 870.00,1396.48 870.25,1396.48 870.50,1396.48 870.75,1396.48 871.00,1396.48 871.25,1396.48 871.50,1396.48 871.75,1396.48 872.00,1396.48 872.25,1396.48 872.50,1396.48 872.75,1396.48 873.00,1396.48 873.25,1396.48 873.50,1396.48 873.75,1396.48 874.00,1396.48 874.25,1396.48 874.50,1396.48 874.75,1396.48 875.00,1396.48 875.25,1396.49 875.50,1396.49 875.75,1396.49 876.00,1396.49 876.25,1396.49 876.50,1396.49 876.75,1396.49 877.00,1396.49 877.25,1396.49 877.50,1396.49 877.75,1396.49 878.00,1396.49 878.25,1396.49 878.50,1396.49 878.75,1396.49 879.00,1396.49 879.25,1396.49 879.50,1396.49 879.75,1396.49 880.00,1396.49 880.25,1396.49 880.50,1396.49 880.75,1396.49 881.00,1396.49 881.25,1396.49 881.50,1396.49 881.75,1396.49 882.00,1396.49 882.25,1396.49 882.50,1396.49 882.75,1396.49 883.00,1396.49 883.25,1396.49 883.50,1396.49 883.75,1396.49 884.00,1396.49 884.25,1396.49 884.50,1396.49 884.75,1396.49 885.00,1396.49 885.25,1396.49 885.50,1396.49 885.75,1396.49 886.00,1396.49 886.25,1396.49 886.50,1396.49 886.75,1396.49 887.00,1396.49 887.25,1396.49 887.50,1396.49 887.75,1396.49 888.00,1396.49 888.25,1396.49 888.50,1396.49 888.75,1396.49 889.00,1396.50 889.25,1396.50 889.50,1396.50 889.75,1396.50 890.00,1396.50 890.25,1396.50 890.50,1396.50 890.75,1396.50 891.00,1396.50 891.25,1396.50 891.50,1396.50 891.75,1396.50 892.00,1396.50 892.25,1396.50 892.50,1396.50 892.75,1396.50 893.00,1396.50 893.25,1396.50 893.50,1396.50 893.75,1396.50 894.00,1396.50 894.25,1396.50 894.50,1396.50 894.75,1396.50 895.00,1396.50 895.25,1396.50 895.50,1396.50 895.75,1396.50 896.00,1396.50 896.25,1396.50 896.50,1396.50 896.75,1396.50 897.00,1396.50 897.25,1396.50 897.50,1396.50 897.75,1396.50 898.00,1396.50 898.25,1396.50 898.50,1396.50 898.75,1396.50 899.00,1396.50 899.25,1396.50 899.50,1396.50 899.75,1396.50 900.00,1396.50 900.25,1396.50 900.50,1396.50 900.75,1396.50 901.00,1396.50 901.25,1396.50 901.50,1396.50 901.75,1396.50 902.00,1396.50 902.25,1396.50 902.50,1396.50 902.75,1396.50 903.00,1396.50 903.25,1396.50 903.50,1396.50 903.75,1396.50 904.00,1396.50 904.25,1396.50 904.50,1396.50 904.75,1396.50 905.00,1396.50 905.25,1396.50 905.50,1396.50 905.75,1396.50 906.00,1396.50 906.25,1396.50 906.50,1396.50 906.75,1396.50 907.00,1396.50 907.25,1396.50 907.50,1396.50 907.75,1396.50 908.00,1396.50 908.25,1396.50 908.50,1396.50 908.75,1396.50 909.00,1396.50 909.25,1396.50 909.50,1396.50 909.75,1396.50 910.00,1396.50 910.25,1396.50 910.50,1396.50 910.75,1396.50 911.00,1396.50 911.25,1396.50 911.50,1396.50 911.75,1396.50 912.00,1396.50 912.25,1396.50 912.50,1396.50 912.75,1396.50 913.00,1396.50 913.25,1396.50 913.50,1396.50 913.75,1396.50 914.00,1396.50 914.25,1396.50 914.50,1396.50 914.75,1396.50 915.00,1396.50 915.25,1396.50 915.50,1396.50 915.75,1396.50 916.00,1396.50 916.25,1396.50 916.50,1396.50 916.75,1396.50 917.00,1396.50 917.25,1396.50 917.50,1396.50 917.75,1396.50 918.00,1396.50 918.25,1396.50 918.50,1396.50 918.75,1396.50 919.00,1396.50 919.25,1396.50 919.50,1396.50 919.75,1396.50 920.00,1396.50 920.25,1396.50 920.50,1396.50 920.75,1396.50 921.00,1396.50 921.25,1396.50 921.50,1396.50 921.75,1396.50 922.00,1396.50 922.25,1396.50 922.50,1396.50 922.75,1396.50 923.00,1396.50 923.25,1396.50 923.50,1396.50 923.75,1396.50 924.00,1396.50 924.25,1396.50 924.50,1396.50 924.75,1396.50 925.00,1396.50 925.25,1396.50 925.50,1396.50 925.75,1396.50 926.00,1396.50 926.25,1396.50 926.50,1396.50 926.75,1396.50 927.00,1396.50 927.25,1396.50 927.50,1396.50 927.75,1396.50 928.00,1396.50 928.25,1396.50 928.50,1396.50 928.75,1396.50 929.00,1396.50 929.25,1396.50 929.50,1396.50 929.75,1396.50 930.00,1396.50 930.25,1396.50 930.50,1396.50 930.75,1396.50 931.00,1396.50 931.25,1396.50 931.50,1396.50 931.75,1396.50 932.00,1396.50 932.25,1396.50 932.50,1396.50 932.75,1396.50 933.00,1396.50 933.25,1396.50 933.50,1396.50 933.75,1396.50 934.00,1396.50 934.25,1396.50 934.50,1396.50 934.75,1396.50 935.00,1396.50 935.25,1396.50 935.50,1396.50 935.75,1396.50 936.00,1396.50 936.25,1396.50 936.50,1396.50 936.75,1396.50 937.00,1396.50 937.25,1396.50 937.50,1396.50 937.75,1396.50 938.00,1396.50 938.25,1396.50 938.50,1396.50 938.75,1396.50 939.00,1396.50 939.25,1396.50 939.50,1396.50 939.75,1396.50 940.00,1396.50 940.25,1396.50 940.50,1396.50 940.75,1396.50 941.00,1396.50 941.25,1396.50 941.50,1396.50 941.75,1396.50 942.00,1396.50 942.25,1396.50 942.50,1396.50 942.75,1396.50 943.00,1396.50 943.25,1396.50 943.50,1396.50 943.75,1396.50 944.00,1396.50 944.25,1396.50 944.50,1396.50 944.75,1396.50 945.00,1396.50 945.25,1396.50 945.50,1396.50 945.75,1396.50 946.00,1396.50 946.25,1396.50 946.50,1396.50 946.75,1396.50 947.00,1396.50 947.25,1396.50 947.50,1396.50 947.75,1396.50 948.00,1396.50 948.25,1396.50 948.50,1396.50 948.75,1396.50 949.00,1396.50 949.25,1396.50 949.50,1396.50 949.75,1396.50 950.00,1396.50 950.25,1396.50 950.50,1396.50 950.75,1396.50 951.00,1396.50 951.25,1396.50 951.50,1396.50 951.75,1396.50 952.00,1396.50 952.25,1396.50 952.50,1396.50 952.75,1396.50 953.00,1396.50 953.25,1396.50 953.50,1396.50 953.75,1396.50 954.00,1396.50 954.25,1396.50 954.50,1396.50 954.75,1396.50 955.00,1396.50 955.25,1396.50 955.50,1396.50 955.75,1396.50 956.00,1396.50 956.25,1396.50 956.50,1396.50 956.75,1396.50 957.00,1396.50 957.25,1396.50 957.50,1396.50 957.75,1396.50 958.00,1396.50 958.25,1396.50 958.50,1396.50 958.75,1396.50 959.00,1396.50 959.25,1396.50 959.50,1396.50 959.75,1396.50 960.00,1396.50 960.25,1396.50 960.50,1396.50 960.75,1396.50 961.00,1396.50 961.25,1396.50 961.50,1396.50 961.75,1396.50 962.00,1396.50 962.25,1396.50 962.50,1396.50 962.75,1396.50 963.00,1396.50 963.25,1396.50 963.50,1396.50 963.75,1396.50 964.00,1396.50 964.25,1396.50 964.50,1396.50 964.75,1396.50 965.00,1396.50 965.25,1396.50 965.50,1396.50 965.75,1396.50 966.00,1396.50 966.25,1396.50 966.50,1396.50 966.75,1396.50 967.00,1396.50 967.25,1396.50 967.50,1396.50 967.75,1396.50 968.00,1396.50 968.25,1396.50 968.50,1396.50 968.75,1396.50 969.00,1396.50 969.25,1396.50 969.50,1396.50 969.75,1396.50 970.00,1396.50 970.25,1396.50 970.50,1396.50 970.75,1396.50 971.00,1396.50 971.25,1396.50 971.50,1396.50 971.75,1396.50 972.00,1396.50 972.25,1396.50 972.50,1396.50 972.75,1396.50 973.00,1396.50 973.25,1396.50 973.50,1396.50 973.75,1396.50 974.00,1396.50 974.25,1396.50 974.50,1396.50 974.75,1396.50 975.00,1396.50 975.25,1396.50 975.50,1396.50 975.75,1396.50 976.00,1396.50 976.25,1396.50 976.50,1396.50 976.75,1396.50 977.00,1396.50 977.25,1396.50 977.50,1396.50 977.75,1396.50 978.00,1396.50 978.25,1396.50 978.50,1396.50 978.75,1396.50 979.00,1396.50 979.25,1396.50 979.50,1396.50 979.75,1396.50 980.00,1396.50 980.25,1396.50 980.50,1396.50 980.75,1396.50 981.00,1396.50 981.25,1396.50 981.50,1396.50 981.75,1396.50 982.00,1396.50 982.25,1396.50 982.50,1396.50 982.75,1396.50 983.00,1396.50 983.25,1396.50 983.50,1396.50 983.75,1396.50 984.00,1396.50 984.25,1396.50 984.50,1396.50 984.75,1396.50 985.00,1396.50 985.25,1396.50 985.50,1396.50 985.75,1396.50 986.00,1396.50 986.25,1396.50 986.50,1396.50 986.75,1396.50 987.00,1396.50 987.25,1396.50 987.50,1396.50 987.75,1396.50 988.00,1396.50 988.25,1396.50 988.50,1396.50 988.75,1396.50 989.00,1396.50 989.25,1396.50 989.50,1396.50 989.75,1396.50 990.00,1396.50 990.25,1396.50 990.50,1396.50 990.75,1396.50 991.00,1396.50 991.25,1396.50 991.50,1396.50 991.75,1396.50 992.00,1396.50 992.25,1396.50 992.50,1396.50 992.75,1396.50 993.00,1396.50 993.25,1396.50 993.50,1396.50 993.75,1396.50 994.00,1396.50 994.25,1396.50 994.50,1396.50 994.75,1396.50 995.00,1396.50 995.25,1396.50 995.50,1396.50 995.75,1396.50 996.00,1396.50 996.25,1396.50 996.50,1396.50 996.75,1396.50 997.00,1396.50 997.25,1396.50 997.50,1396.50 997.75,1396.50 998.00,1396.50 998.25,1396.50 998.50,1396.50 998.75,1396.50 999.00,1396.50 999.25,1396.50 999.50,1396.50 999.75,1396.50 1000.00,1396.50 1000.25,1396.50 1000.50,1396.50 1000.75,1396.50 1001.00,1396.50 1001.25,1396.50 1001.50,1396.50 1001.75,1396.50 1002.00,1396.50 1002.25,1396.50 1002.50,1396.50 1002.75,1396.50 1003.00,1396.50 1003.25,1396.50 1003.50,1396.50 1003.75,1396.50 1004.00,1396.50 1004.25,1396.50 1004.50,1396.50 1004.75,1396.50 1005.00,1396.50 1005.25,1396.50 1005.50,1396.50 1005.75,1396.50 1006.00,1396.50 1006.25,1396.50 1006.50,1396.50 1006.75,1396.50 1007.00,1396.50 1007.25,1396.50 1007.50,1396.50 1007.75,1396.50 1008.00,1396.50 1008.25,1396.50 1008.50,1396.50 1008.75,1396.50 1009.00,1396.50 1009.25,1396.50 1009.50,1396.50 1009.75,1396.50 1010.00,1396.50 1010.25,1396.50 1010.50,1396.50 1010.75,1396.50 1011.00,1396.50 1011.25,1396.50 1011.50,1396.50 1011.75,1396.50 1012.00,1396.50 1012.25,1396.50 1012.50,1396.50 1012.75,1396.50 1013.00,1396.50 1013.25,1396.50 1013.50,1396.50 1013.75,1396.50 1014.00,1396.50 1014.25,1396.50 1014.50,1396.50 1014.75,1396.50 1015.00,1396.50 1015.25,1396.50 1015.50,1396.50 1015.75,1396.50 1016.00,1396.50 1016.25,1396.50" fill="none" stroke="#151515" stroke-width="1"/>
<text x="387.0" y="1176.4" font-size="17" >1</text>
<text x="550.9" y="1023.2" font-size="17" >2</text>
<text x="800.7" y="1199.4" font-size="17" >3</text>
<text transform="translate(318 1549.5) scale(1.067 1)" font-size="16" text-anchor="middle">Sample Components</text>
<text transform="translate(525.5 1549.5) scale(1.067 1)" font-size="16" text-anchor="middle">Retention time</text>
<text transform="translate(525.5 1566.8) scale(1.067 1)" font-size="16" text-anchor="middle">[min]</text>
<text transform="translate(682 1549.5) scale(1.067 1)" font-size="16" text-anchor="middle">Capacity factor</text>
<text transform="translate(682 1566.8) scale(1.067 1)" font-size="16" text-anchor="middle">[k'=(tRn-tR1)/tR1]</text>
<text transform="translate(888 1549.5) scale(1.067 1)" font-size="16" text-anchor="middle">Theoretical plates</text>
<text transform="translate(888 1566.8) scale(1.067 1)" font-size="16" text-anchor="middle">[N=5.54×(tR/W0.5)^2]</text>
<text transform="translate(1093 1549.5) scale(1.067 1)" font-size="16" text-anchor="middle">Tailing factor</text>
<text transform="translate(1093 1566.8) scale(1.067 1)" font-size="16" text-anchor="middle">[Tf=W0.05/2f]</text>
<text transform="translate(183 1592.2) scale(1.067 1)" font-size="16" >1.Uracil (0.02 mg/mL)</text>
<text transform="translate(525.5 1592.2) scale(1.067 1)" font-size="16" text-anchor="middle">0.86</text>
<text transform="translate(887 1592.2) scale(1.067 1)" font-size="16" text-anchor="middle">4226</text>
<text transform="translate(1093 1592.2) scale(1.067 1)" font-size="16" text-anchor="middle">1.42</text>
<text transform="translate(183 1617.8) scale(1.067 1)" font-size="16" >2.Methyl benzoate (0.7 uL/mL)</text>
<text transform="translate(525.5 1617.8) scale(1.067 1)" font-size="16" text-anchor="middle">2.98</text>
<text transform="translate(682 1617.8) scale(1.067 1)" font-size="16" text-anchor="middle">2.46</text>
<text transform="translate(887 1617.8) scale(1.067 1)" font-size="16" text-anchor="middle">13598</text>
<text transform="translate(1093 1617.8) scale(1.067 1)" font-size="16" text-anchor="middle">1.14</text>
<text transform="translate(183 1643.2) scale(1.067 1)" font-size="16" >3.Naphthalene (0.24 mg/mL)</text>
<text transform="translate(525.5 1643.2) scale(1.067 1)" font-size="16" text-anchor="middle">6.21</text>
<text transform="translate(682 1643.2) scale(1.067 1)" font-size="16" text-anchor="middle">6.21</text>
<text transform="translate(887 1643.2) scale(1.067 1)" font-size="16" text-anchor="middle">13869</text>
<text transform="translate(1093 1643.2) scale(1.067 1)" font-size="16" text-anchor="middle">1.05</text>
<g transform="translate(685.5 1687.7) scale(0.06319702602230483) translate(-657 -801)"><circle cx="657" cy="801" r="538" fill="#e21e1f"/><g fill="#fff"><path d="M322 473.5 L790 473.8 A113 101 0 0 1 903 575 L903 624.6 L291.5 624.4 Z"/><path d="M255.5 768.5 L858 767.9 L821 922.7 L381 914.7 L274 1400 L109 1400 Z"/></g></g>
<text transform="translate(733 1691) scale(1.35 1)" font-size="26" style="fill:#d2232a;font-family:'Liberation Sans', 'Noto Sans CJK SC', sans-serif" font-weight="500" letter-spacing="1.4">广州菲罗门科学仪器有限公司</text>
<text transform="translate(737 1716) scale(1.067 1)" font-size="21.6" style="fill:#3384b8">Guangzhou FLM Scientific Instrument Co., Ltd</text>
</svg>
</body></html>
